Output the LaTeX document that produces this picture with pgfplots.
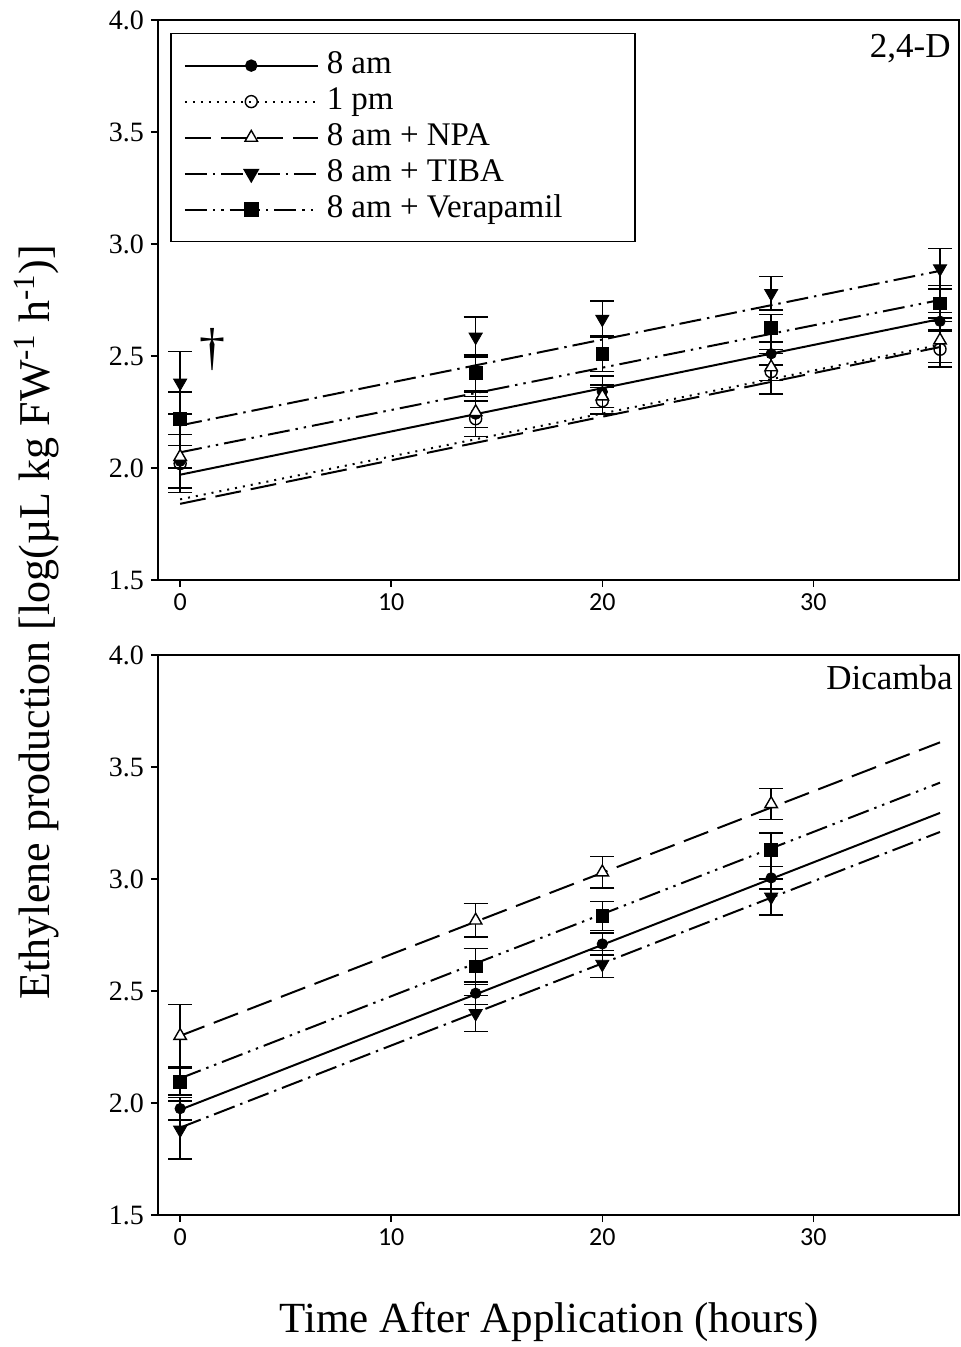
\documentclass[border=0pt]{standalone}
\usepackage{fontspec}
\setmainfont{Liberation Serif}
\newfontfamily\tickfont{Carlito}
\usepackage{pgfplots}
\usepackage{pgfplotstable}
\pgfplotsset{compat=1.18}
\usetikzlibrary{plotmarks}

% ---------- data: 2,4-D ----------
\pgfplotstableread{
x y e
0 2.03 0.12
14 2.24 0.10
20 2.34 0.07
28 2.51 0.05
36 2.655 0.04
}\dAmA
\pgfplotstableread{
x y e
0 2.02 0.13
14 2.22 0.08
20 2.30 0.06
28 2.43 0.10
36 2.53 0.08
}\dApm
\pgfplotstableread{
x y e
0 2.05 0.05
14 2.25 0.07
20 2.32 0.05
28 2.45 0.06
36 2.57 0.10
}\dAnpa
\pgfplotstableread{
x y e
0 2.38 0.14
14 2.585 0.09
20 2.665 0.08
28 2.78 0.075
36 2.89 0.09
}\dAtiba
\pgfplotstableread{
x y e
0 2.22 0.12
14 2.424 0.08
20 2.51 0.08
28 2.625 0.06
36 2.735 0.08
}\dAver
% ---------- data: Dicamba ----------
\pgfplotstableread{
x y e
0 1.975 0.05
14 2.49 0.05
20 2.71 0.05
28 3.005 0.05
}\dBam
\pgfplotstableread{
x y e
0 2.30 0.14
14 2.815 0.075
20 3.03 0.07
28 3.335 0.07
}\dBnpa
\pgfplotstableread{
x y e
0 1.88 0.13
14 2.40 0.08
20 2.62 0.06
28 2.92 0.08
}\dBtiba
\pgfplotstableread{
x y e
0 2.095 0.06
14 2.61 0.08
20 2.835 0.065
28 3.13 0.075
}\dBver

\pgfplotsset{
  panel/.style={
    scale only axis, width=400.5pt, height=280pt,
    xmin=-1.05, xmax=36.9, ymin=1.5, ymax=4.0,
    xtick={0,10,20,30}, ytick={1.5,2,2.5,3,3.5,4},
    tick align=outside, tick pos=left, major tick length=3.5pt,
    axis line style={line width=0.75pt},
    every tick/.style={black, line width=0.75pt},
    /pgf/number format/assume math mode=true,
    yticklabel style={/pgf/number format/fixed, /pgf/number format/fixed zerofill, /pgf/number format/precision=1, font=\fontsize{14}{14}\selectfont},
    xticklabel style={font=\tickfont\fontsize{13}{13}\selectfont},
    clip=false,
  },
  lAm/.style={black, solid, line width=1pt},
  lPm/.style={black, line width=1pt, dash pattern=on 1pt off 3pt},
  lNpa/.style={black, line width=1pt, dash pattern=on 13pt off 5pt},
  lTiba/.style={black, line width=1pt, dash pattern=on 11pt off 3pt on 1.2pt off 3pt},
  lVer/.style={black, line width=1pt, dash pattern=on 11pt off 3pt on 1.2pt off 3pt on 1.2pt off 3pt},
  mAm/.style={mark=*, mark size=2.6pt, mark options={solid, fill=black, draw=black}},
  mPm/.style={mark=o, mark size=3pt, mark options={solid, fill=white, draw=black, line width=0.7pt}},
  mNpa/.style={mark=triangle*, mark size=3.6pt, mark options={solid, fill=white, draw=black, line width=0.7pt}},
  mTiba/.style={mark=triangle*, mark size=3.8pt, mark options={solid, rotate=180, fill=black, draw=black}},
  mVer/.style={mark=square*, mark size=3.2pt, mark options={solid, fill=black, draw=black}},
  pts/.style={only marks, black, forget plot,
    error bars/y dir=both, error bars/y explicit,
    error bars/error bar style={line width=0.75pt, solid, black},
    error bars/error mark options={rotate=90, mark size=6pt, line width=0.75pt, solid, black}},
}

\begin{document}
\begin{tikzpicture}
\useasboundingbox (-79pt,-66pt) rectangle (401.5pt,607.5pt);

% ================= top: 2,4-D =================
\begin{axis}[panel, at={(0,317.5pt)},
  legend style={draw=black, line width=0.75pt, at={(axis description cs:0.015,0.977)}, anchor=north west,
    font=\fontsize{16.5}{20}\selectfont, inner xsep=6.5pt, inner ysep=7pt,
    nodes={text height=11.5pt, text depth=3.5pt, inner ysep=1.5pt, inner xsep=4pt}},
  legend cell align=left,
  legend image code/.code={\draw[mark repeat=2,mark phase=2] plot coordinates {(0pt,0pt)(33.25pt,0pt)(66.5pt,0pt)};},
]
\addlegendimage{lAm, mAm}\addlegendentry{\makebox[143.5pt][l]{8 am}}
\addlegendimage{lPm, mPm}\addlegendentry{1 pm}
\addlegendimage{lNpa, mNpa}\addlegendentry{8 am + NPA}
\addlegendimage{lTiba, mTiba}\addlegendentry{8 am + TIBA}
\addlegendimage{lVer, mVer}\addlegendentry{8 am + Verapamil}

% regression lines
\addplot[lPm, forget plot] coordinates {(0,1.86) (36,2.55)};
\addplot[lNpa, forget plot] coordinates {(0,1.84) (36,2.54)};
\addplot[lAm, forget plot] coordinates {(0,1.97) (36,2.665)};
\addplot[lVer, forget plot] coordinates {(0,2.07) (36,2.75)};
\addplot[lTiba, forget plot] coordinates {(0,2.19) (36,2.88)};

% points
\addplot[pts, mAm] table[x=x, y=y, y error=e] {\dAmA};
\addplot[pts, mPm] table[x=x, y=y, y error=e] {\dApm};
\addplot[pts, mNpa] table[x=x, y=y, y error=e] {\dAnpa};
\addplot[pts, mVer] table[x=x, y=y, y error=e] {\dAver};
\addplot[pts, mTiba] table[x=x, y=y, y error=e] {\dAtiba};

\node[font=\fontsize{26}{26}\selectfont] at (axis cs:1.55,2.53) {\textdagger};
\node[anchor=north east, inner sep=0pt, font=\fontsize{17.5}{17.5}\selectfont] at ([xshift=-4pt,yshift=-7pt]rel axis cs:1,1) {2,4-D};
\end{axis}

% ================= bottom: Dicamba =================
\begin{axis}[panel, at={(0,0)}]
\addplot[lNpa, forget plot] coordinates {(0,2.30) (36,3.61)};
\addplot[lVer, forget plot] coordinates {(0,2.11) (36,3.43)};
\addplot[lAm, forget plot] coordinates {(0,1.97) (36,3.295)};
\addplot[lTiba, forget plot] coordinates {(0,1.89) (36,3.21)};

\addplot[pts, mNpa] table[x=x, y=y, y error=e] {\dBnpa};
\addplot[pts, mVer] table[x=x, y=y, y error=e] {\dBver};
\addplot[pts, mAm] table[x=x, y=y, y error=e] {\dBam};
\addplot[pts, mTiba] table[x=x, y=y, y error=e] {\dBtiba};

\node[anchor=north east, inner sep=0pt, font=\fontsize{17.5}{17.5}\selectfont] at ([xshift=-3pt,yshift=-5pt]rel axis cs:1,1) {Dicamba};
\end{axis}

\node[rotate=90, anchor=base, font=\fontsize{22}{22}\selectfont] at (-54pt,296.5pt) {Ethylene production [log(µL kg FW\textsuperscript{-1} h\textsuperscript{-1})]};
\node[anchor=base, font=\fontsize{21.5}{21.5}\selectfont] at (195.5pt,-59pt) {Time After Application (hours)};
\end{tikzpicture}
\end{document}
